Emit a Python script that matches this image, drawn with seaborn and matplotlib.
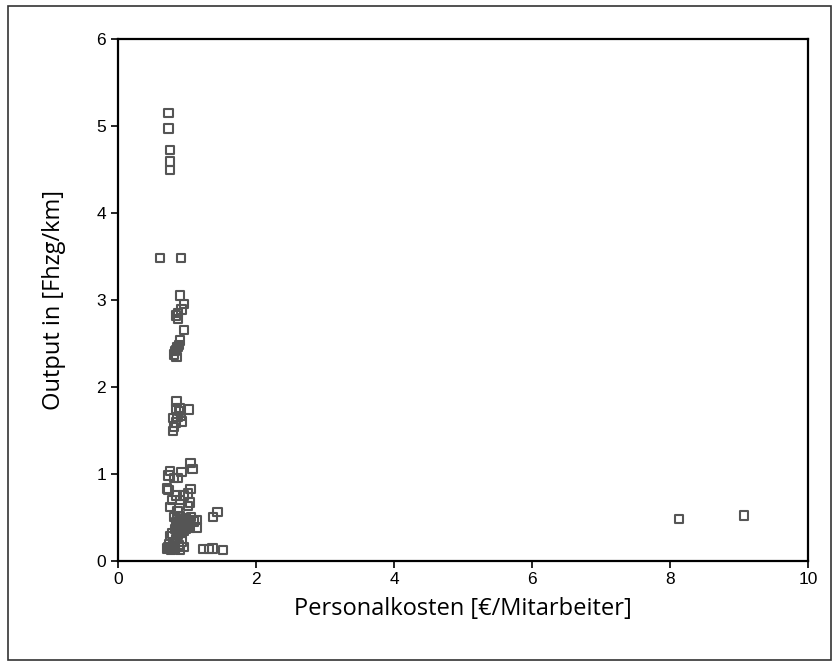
import matplotlib
matplotlib.use("Agg")
import matplotlib.pyplot as plt
import seaborn as sns
import pandas as pd
from matplotlib.patches import Rectangle

# Personalkosten [€/Mitarbeiter]
x_cost = [0.73, 0.73, 0.75, 0.75, 0.75, 0.61, 0.91,
          0.90, 0.96, 0.92, 0.87, 0.84, 0.87, 0.96, 0.90, 0.88, 0.86, 0.83, 0.81, 0.85, 0.84,
          0.85, 0.84, 0.90, 1.03, 0.91, 0.86, 0.80, 0.84, 0.81, 0.80, 0.88, 0.92,
          0.75, 0.73, 0.81, 0.87, 0.92, 1.05, 1.08, 0.71, 0.73, 1.05,
          0.85, 0.95, 1.01, 0.78, 0.90, 1.04, 0.76, 1.01, 0.86,
          1.38, 1.44,
          0.82, 0.86, 0.90, 0.94, 0.98, 1.02, 1.06, 1.10, 0.84, 0.88, 0.92, 0.96, 1.00, 1.04,
          0.83, 0.87, 0.91, 0.95, 0.99, 0.86, 0.93, 1.14, 1.14,
          0.85, 0.89, 0.93, 0.97, 1.01, 0.88, 0.94, 1.00,
          0.78, 0.75, 0.92, 0.85, 0.80, 0.73, 0.71, 0.76, 0.79, 0.82, 0.88, 0.90, 0.95,
          0.77, 0.80, 0.83, 0.74,
          1.24, 1.32, 1.37, 1.52,
          8.13, 9.07]

# Output in [Fhzg/km]
y_output = [5.15, 4.97, 4.72, 4.59, 4.49, 3.48, 3.48,
            3.05, 2.95, 2.89, 2.85, 2.82, 2.78, 2.65, 2.53, 2.48, 2.46, 2.41, 2.37, 2.34, 2.42,
            1.83, 1.75, 1.75, 1.74, 1.66, 1.65, 1.64, 1.59, 1.54, 1.49, 1.72, 1.60,
            1.03, 0.98, 0.95, 0.95, 1.02, 1.12, 1.05, 0.83, 0.81, 0.82,
            0.75, 0.75, 0.77, 0.70, 0.70, 0.67, 0.62, 0.63, 0.57,
            0.50, 0.56,
            0.50, 0.48, 0.51, 0.47, 0.49, 0.46, 0.50, 0.45, 0.42, 0.40, 0.43, 0.39, 0.41, 0.38,
            0.36, 0.35, 0.37, 0.34, 0.36, 0.30, 0.32, 0.47, 0.38,
            0.44, 0.45, 0.44, 0.42, 0.44, 0.39, 0.40, 0.43,
            0.31, 0.28, 0.22, 0.25, 0.20, 0.16, 0.14, 0.13, 0.15, 0.14, 0.18, 0.12, 0.16,
            0.12, 0.17, 0.13, 0.19,
            0.13, 0.13, 0.14, 0.12,
            0.48, 0.52]

x_ticks = [0, 2, 4, 6, 8, 10]
y_ticks = [0, 1, 2, 3, 4, 5, 6]
x_label = "Personalkosten [€/Mitarbeiter]"
y_label = "Output in [Fhzg/km]"

df = pd.DataFrame({"cost": x_cost, "output": y_output})

sns.set_theme(style="white")
plt.rcParams["font.family"] = ["Liberation Sans", "DejaVu Sans"]

fig = plt.figure(figsize=(8.4, 6.67), dpi=100)
ax = fig.add_axes([118 / 840, 1 - 560.6 / 667, (808 - 118) / 840, (560.6 - 39) / 667])

sns.scatterplot(data=df, x="cost", y="output", ax=ax, marker="s", s=36,
                facecolors="none", edgecolor="#555555", linewidth=1.5, legend=False)

ax.set_xlim(0, 10)
ax.set_ylim(0, 6)
ax.set_xticks(x_ticks)
ax.set_yticks(y_ticks)
ax.tick_params(axis="both", direction="out", length=5, width=1.2, color="black",
               labelsize=12.5, labelcolor="black", bottom=True, left=True)
for sp in ax.spines.values():
    sp.set_color("black")
    sp.set_linewidth(1.6)
    sp.set_visible(True)

ax.set_xlabel(x_label, fontsize=17, family=["Open Sans", "DejaVu Sans"], labelpad=7,
              color="black")
ax.set_ylabel(y_label, fontsize=17, family=["Open Sans", "DejaVu Sans"], labelpad=22,
              color="black")

fig.patches.append(Rectangle((8 / 840, 1 - 660 / 667), (831 - 8) / 840, (660 - 6) / 667,
                             transform=fig.transFigure, fill=False, edgecolor="#333333",
                             linewidth=1.2))

fig.savefig("out.png", dpi=100)
